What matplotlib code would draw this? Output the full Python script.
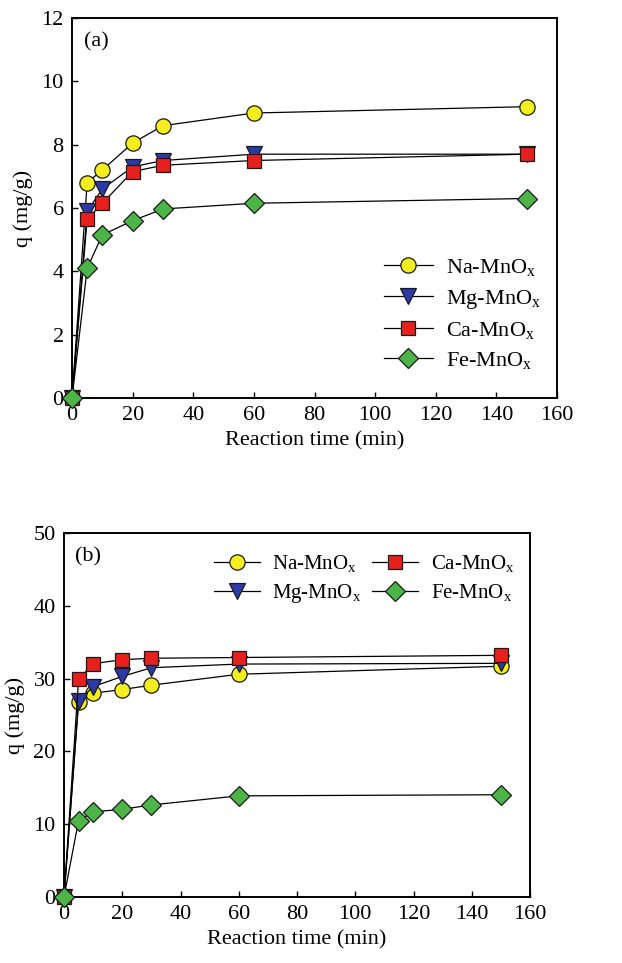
import matplotlib.pyplot as plt
from matplotlib.ticker import MultipleLocator

plt.rcParams['font.family'] = ['Liberation Serif', 'DejaVu Serif']
plt.rcParams['mathtext.fontset'] = 'custom'
plt.rcParams['mathtext.rm'] = 'Liberation Serif'
plt.rcParams['mathtext.it'] = 'Liberation Serif'

# reaction time (min)
time = [0, 5, 10, 20, 30, 60, 150]

# panel (a) uptake q (mg/g)
na_a = [0, 6.8, 7.2, 8.05, 8.6, 9.0, 9.2]
mg_a = [0, 5.9, 6.6, 7.3, 7.5, 7.7, 7.7]
ca_a = [0, 5.65, 6.15, 7.15, 7.35, 7.5, 7.7]
fe_a = [0, 4.1, 5.15, 5.6, 5.97, 6.15, 6.3]

# panel (b) uptake q (mg/g)
na_b = [0, 26.8, 28.0, 28.5, 29.1, 30.6, 31.7]
mg_b = [0, 26.9, 28.9, 30.3, 31.5, 32.0, 32.1]
ca_b = [0, 29.9, 32.05, 32.6, 32.8, 32.9, 33.2]
fe_b = [0, 10.5, 11.7, 12.05, 12.65, 13.9, 14.05]

labels = [r'Na-MnO$_\mathrm{x}$', r'Mg-MnO$_\mathrm{x}$',
          r'Ca-MnO$_\mathrm{x}$', r'Fe-MnO$_\mathrm{x}$']
markers = ['o', 'v', 's', 'D']
colors = ['#f4ee1e', '#2b3aa6', '#e6201c', '#4db447']
sizes = [11, 11, 10.5, 10]

fig = plt.figure(figsize=(6.22, 9.63), dpi=100)
ax_a = fig.add_axes([0.1158, 0.5867, 0.7797, 0.3946])
ax_b = fig.add_axes([0.1029, 0.0685, 0.7492, 0.378])


def draw(ax, series, ymax, ystep):
    handles = []
    for y, lab, m, c, s in zip(series, labels, markers, colors, sizes):
        h, = ax.plot(time, y, marker=m, color='black', lw=0.9,
                     markerfacecolor=c, markeredgecolor='#1a1a1a',
                     markeredgewidth=0.9, markersize=s, label=lab,
                     clip_on=False, zorder=3)
        handles.append(h)
    ax.set_xlim(0, 160)
    ax.set_ylim(0, ymax)
    ax.xaxis.set_major_locator(MultipleLocator(20))
    ax.yaxis.set_major_locator(MultipleLocator(ystep))
    ax.tick_params(direction='in', length=4, width=1, labelsize=16,
                   top=False, right=False, pad=6)
    for sp in ax.spines.values():
        sp.set_linewidth(1.4)
    ax.set_xlabel('Reaction time (min)', fontsize=16, labelpad=4)
    ax.set_ylabel('q (mg/g)', fontsize=16, labelpad=6)
    return handles


h_a = draw(ax_a, [na_a, mg_a, ca_a, fe_a], 12, 2)
ax_a.text(0.025, 0.937, '(a)', transform=ax_a.transAxes, fontsize=16,
          va='center', ha='left')
ax_a.legend(handles=h_a, loc='upper right', bbox_to_anchor=(1.008, 0.423),
            frameon=False, fontsize=16, handlelength=2.2,
            labelspacing=0.42, handletextpad=0.6)

h_b = draw(ax_b, [na_b, mg_b, ca_b, fe_b], 50, 10)
ax_b.text(0.024, 0.934, '(b)', transform=ax_b.transAxes, fontsize=16,
          va='center', ha='left')
ax_b.legend(handles=[h_b[0], h_b[1], h_b[2], h_b[3]], ncol=2,
            loc='upper right', bbox_to_anchor=(1.006, 0.997),
            frameon=False, fontsize=15, handlelength=2.2,
            labelspacing=0.4, handletextpad=0.6, columnspacing=0.5)

fig.savefig('out.png', dpi=100)
